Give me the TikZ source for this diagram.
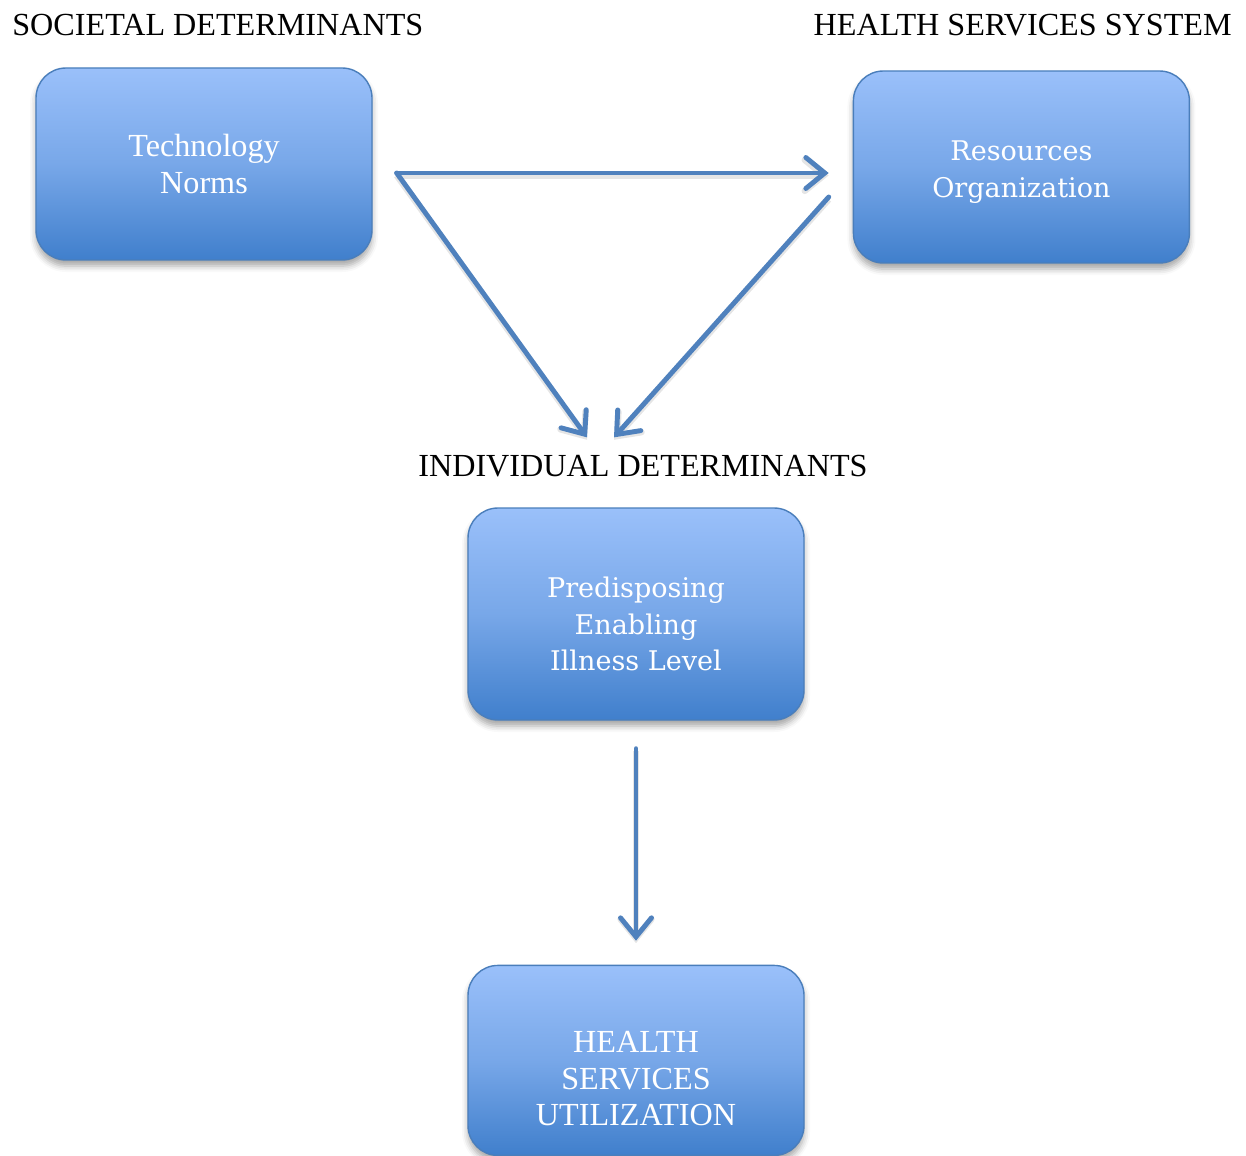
\documentclass[tikz,border=0pt]{standalone}
\usepackage{fontspec}
\setmainfont{Liberation Serif}
\newfontfamily\boxfont{DejaVu Serif}
\usepackage{tikz}
\usetikzlibrary{positioning}
\usetikzlibrary{arrows.meta}
\usetikzlibrary{shadows.blur}
\usepackage{xcolor}

\definecolor{boxtop}{RGB}{154,192,250}
\definecolor{boxbot}{RGB}{64,127,204}
\definecolor{boxline}{RGB}{74,126,187}
\definecolor{arrowblue}{RGB}{79,129,189}

\begin{document}
\begin{tikzpicture}[
  font=\fontsize{18.3}{21}\selectfont,
  box/.style={draw=boxline, line width=0.8pt, rounded corners=0.6cm, align=center,
    minimum width=6.72cm, minimum height=3.84cm, top color=boxtop, bottom color=boxbot,
    middle color=boxtop!62!boxbot, text=white,
    blur shadow={shadow xshift=0pt, shadow yshift=-0.12cm, shadow opacity=35, shadow blur radius=0.12cm}},
  serifbox/.style={box, font=\boxfont\fontsize{15.4}{21}\selectfont},
  heading/.style={inner sep=0pt, text=black},
  arrow/.style={arrowblue, line width=2.8pt, line cap=round,
    -{Straight Barb[length=0.38cm, width=0.62cm, line cap=round]},
    preaction={draw=black, draw opacity=0.1, line width=3.6pt,
      transform canvas={yshift=-1.4pt}}}
]
\useasboundingbox (0,0) rectangle (24.92,-23.1);

% Headings
\node[heading, anchor=base west] (societal) at (0.24,-0.72) {SOCIETAL DETERMINANTS};
\node[heading, anchor=base east] (hss) at (24.64,-0.72) {HEALTH SERVICES SYSTEM};
\node[heading, anchor=base] (individual) at (12.86,-9.52) {INDIVIDUAL DETERMINANTS};

% Boxes (the rules push the text down a little)
\node[box] (tech) at (4.08,-3.28) {Technology\\Norms};
\node[serifbox, right=9.6cm of tech, yshift=-0.06cm] (resources) {\rule{0pt}{0.6cm}Resources\\Organization};
\node[serifbox, minimum height=4.24cm] (indiv) at (12.72,-12.28) {\rule{0pt}{0.81cm}Predisposing\\Enabling\\Illness Level};
\node[box, minimum height=3.8cm, below=4.88cm of indiv] (util) {\rule{0pt}{1.15cm}HEALTH\\SERVICES\\UTILIZATION};

% Arrow end points
\coordinate (fork) at ([xshift=0.48cm, yshift=-0.18cm]tech.east);
\coordinate (hssin) at ([xshift=-0.48cm, yshift=-0.12cm]resources.west);
\coordinate (hssout) at ([xshift=-0.48cm, yshift=-0.6cm]resources.west);
\coordinate (leftin) at ([xshift=-1.12cm, yshift=0.34cm]individual.north);
\coordinate (rightin) at ([xshift=-0.58cm, yshift=0.34cm]individual.north);

\draw[arrow] (fork) -- (hssin);
\draw[arrow] (fork) -- (leftin);
\draw[arrow] (hssout) -- (rightin);
\draw[arrow] ([yshift=-0.56cm]indiv.south) -- ([yshift=0.48cm]util.north);

\end{tikzpicture}
\end{document}
